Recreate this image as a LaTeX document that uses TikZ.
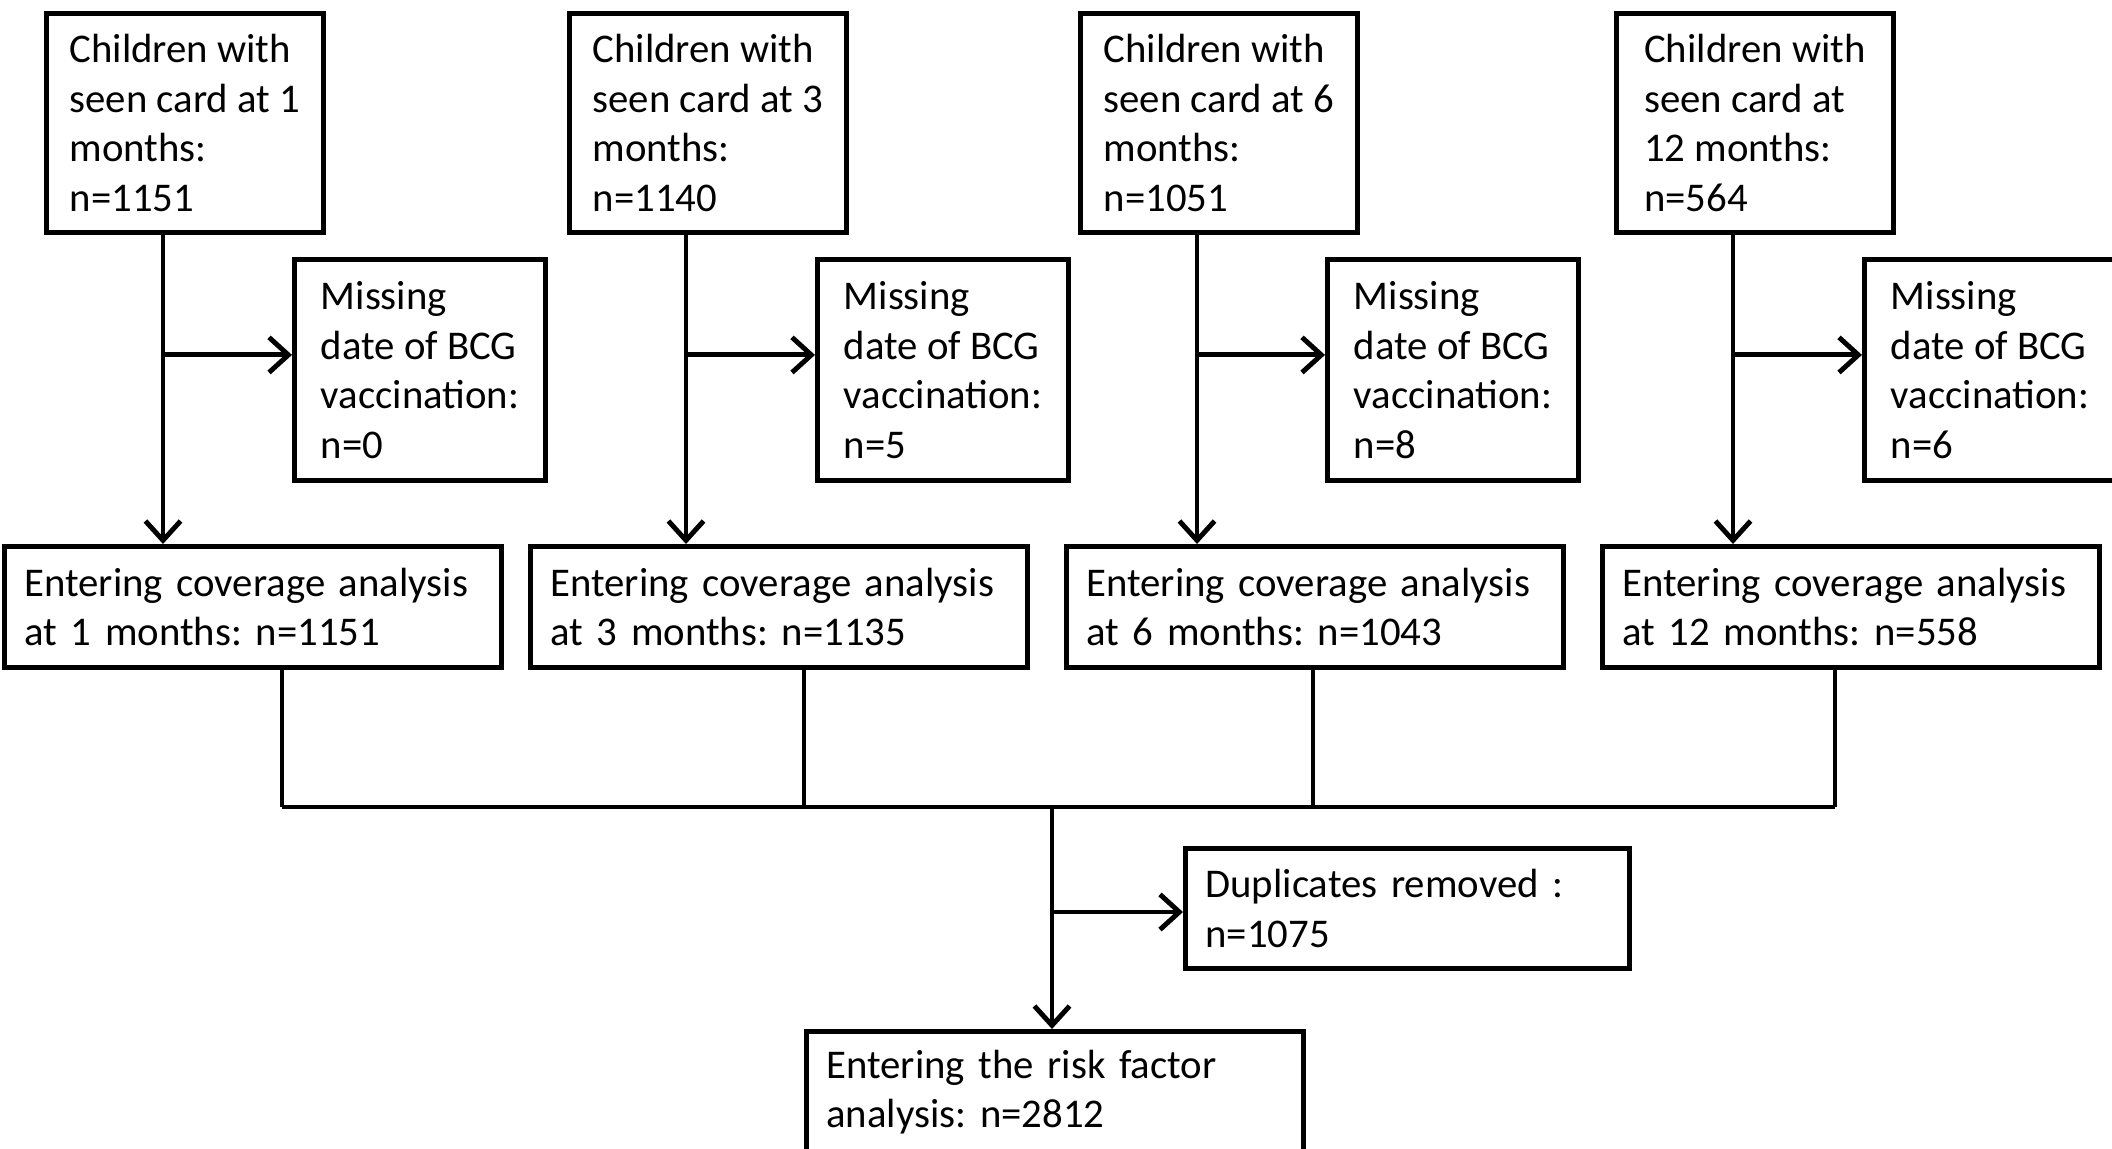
\documentclass[tikz,border=0pt]{standalone}
\usepackage{fontspec}
\setmainfont{Carlito}
\frenchspacing
\usetikzlibrary{arrows.meta,calc,positioning}

\begin{document}
\begin{tikzpicture}[
      line width=1.4pt,>={Straight Barb[length=5.5pt,width=10pt]},
      base/.style={rectangle,draw,line width=1.4pt,anchor=north west,align=left,
        inner xsep=0.2cm,inner ysep=0pt,font=\fontsize{11.6}{14.1}\selectfont},
      cardbox/.style={base,minimum width=2.77cm,minimum height=2.19cm},
      missbox/.style={base,minimum width=2.51cm,minimum height=2.21cm},
      covbox/.style={base,text width=4.57cm,minimum height=1.21cm}
      ]
      \useasboundingbox (0,0) rectangle (21.12,-11.48);

      % children with seen card
      \node[cardbox] (card1) at (0.44,-0.11) {Children with\\seen card at 1\\months:\\n=1151};
      \node[cardbox] (card2) at (5.67,-0.11) {Children with\\seen card at 3\\months:\\n=1140};
      \node[cardbox] (card3) at (10.78,-0.11) {Children with\\seen card at 6\\months:\\n=1051};
      \node[cardbox] (card4) at (16.14,-0.11) {Children with\\seen card at\\12 months:\\n=564};

      % missing BCG date
      \node[missbox] (miss1) at (2.92,-2.57) {Missing\\date of BCG\\vaccination:\\n=0};
      \node[missbox] (miss2) at (8.15,-2.57) {Missing\\date of BCG\\vaccination:\\n=5};
      \node[missbox] (miss3) at (13.25,-2.57) {Missing\\date of BCG\\vaccination:\\n=8};
      \node[missbox] (miss4) at (18.62,-2.57) {Missing\\date of BCG\\vaccination:\\n=6};

      % coverage analysis
      \node[covbox] (cov1) at (0.02,-5.44) {Entering coverage analysis\\at 1 months: n=1151};
      \node[covbox] (cov2) at (5.28,-5.44) {Entering coverage analysis\\at 3 months: n=1135};
      \node[covbox] (cov3) at (10.64,-5.44) {Entering coverage analysis\\at 6 months: n=1043};
      \node[covbox] (cov4) at (16.00,-5.44) {Entering coverage analysis\\at 12 months: n=558};

      \node[base,text width=4.04cm,minimum height=1.20cm] (dup) at (11.83,-8.46) {Duplicates removed :\\n=1075};
      \node[covbox] (risk) at (8.04,-10.29) {Entering the risk factor\\analysis: n=2812};

      \foreach \i in {1,2,3,4} {
        \coordinate (s\i) at ($(card\i.south west)+(1.19,0)$);
        \coordinate (b\i) at ($(s\i)+(0,-1.20)$);
        \draw[->] (s\i) -- (s\i |- cov\i.north);
        \draw[->] (b\i) -- (b\i -| miss\i.west);
      }

      % joining the four analyses
      \coordinate (j1) at (2.82,-8.07);
      \coordinate (j2) at (8.04,-8.07);
      \coordinate (j3) at (13.13,-8.07);
      \coordinate (j4) at (18.35,-8.07);
      \coordinate (jm) at (10.52,-8.07);
      \coordinate (jd) at (10.52,-9.12);
      \foreach \i in {1,2,3,4}
        \draw (cov\i.south -| j\i) -- (j\i);
      \draw (j1) -- (j4);
      \draw[->] (jm) -- (jm |- risk.north);
      \draw[->] (jd) -- (jd -| dup.west);
    \end{tikzpicture}
\end{document}
